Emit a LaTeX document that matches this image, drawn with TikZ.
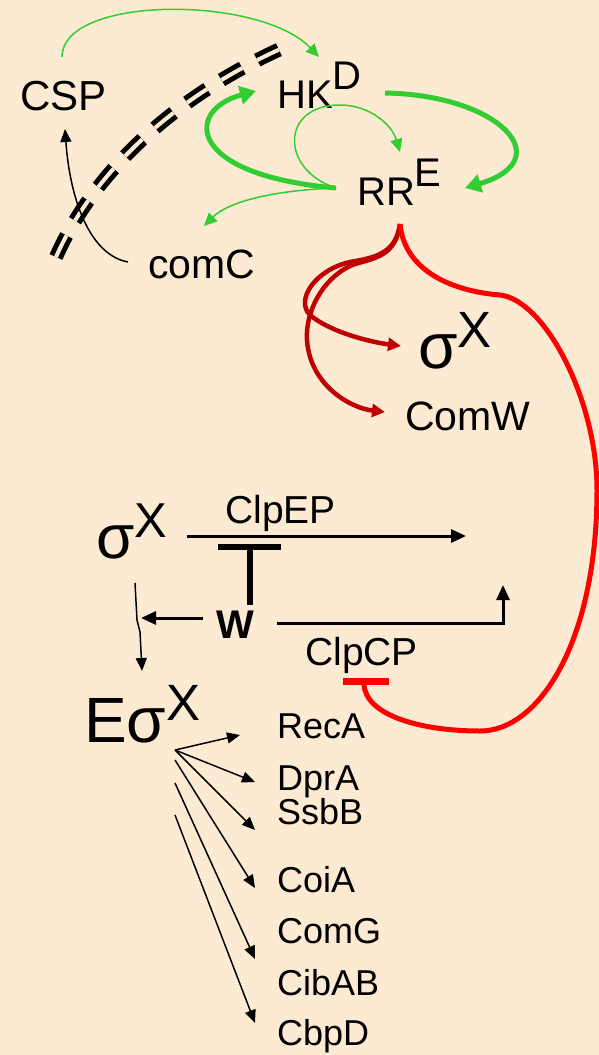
\documentclass[tikz,border=0pt]{standalone}
\usepackage{fontspec}
\setmainfont{Liberation Sans}
\usetikzlibrary{arrows.meta}
\definecolor{bg}{RGB}{253,234,211}
\definecolor{lgreen}{RGB}{50,205,50}
\definecolor{dred}{RGB}{192,0,0}
\definecolor{bred}{RGB}{255,0,0}
\newcommand{\fs}[1]{\fontsize{#1}{#1}\selectfont}
\tikzset{
  lbl/.style={inner sep=0pt, anchor=base west, text=black},
  gthin/.style={draw=lgreen, line width=1.5pt, -{Triangle[length=13pt,width=12pt]}},
  gthick/.style={draw=lgreen, line width=5pt, -{Triangle[length=16pt,width=18pt]}},
  rdark/.style={draw=dred, line width=4.5pt, -{Triangle[length=13pt,width=13pt]}},
  rbright/.style={draw=bred, line width=5pt},
  bthin/.style={draw=black, line width=1.5pt, -{Triangle[length=13pt,width=11pt]}},
  bthick/.style={draw=black, line width=3pt, -{Triangle[length=15pt,width=13pt]}},
  bbar/.style={draw=black, line width=6pt},
}
\begin{document}
\begin{tikzpicture}[x=1pt,y=-1pt]
\fill[bg] (0,0) rectangle (599,1055);
\useasboundingbox (0,0) rectangle (599,1055);

% labels
\node[lbl, font=\fs{42}] (csp) at (20,110) {CSP};
\node[lbl, font=\fs{40}] (hk) at (277,108) {HK\raisebox{19pt}{D}};
\node[lbl, font=\fs{40}] (rr) at (357,205) {RR\raisebox{19pt}{E}};
\node[lbl, font=\fs{41}] (comc) at (148,278) {comC};
\node[lbl, font=\fs{64}] (sx1) at (418,368) {σ\raisebox{21pt}{\fs{51}X}};
\node[lbl, font=\fs{41}] (comw) at (405,430) {ComW};
\node[lbl, font=\fs{62}] (sx2) at (96,558) {σ\raisebox{21pt}{\fs{49}X}};
\node[lbl, font=\fs{39}] (clpep) at (225,523) {ClpEP};
\node[lbl, font=\fs{40}\bfseries] (w) at (216,638) {W};
\node[lbl, font=\fs{39}] (clpcp) at (305,665) {ClpCP};
\node[lbl, font=\fs{64}] (esx) at (84,742) {Eσ\raisebox{22pt}{\fs{51}X}};
\node[lbl, font=\fs{36}] (reca) at (277,738) {RecA};
\node[lbl, font=\fs{36}] (dpra) at (277,790) {DprA};
\node[lbl, font=\fs{36}] (ssbb) at (277,824) {SsbB};
\node[lbl, font=\fs{36}] (coia) at (277,892) {CoiA};
\node[lbl, font=\fs{36}] (comg) at (277,943) {ComG};
\node[lbl, font=\fs{36}] (cibab) at (277,995) {CibAB};
\node[lbl, font=\fs{36}] (cbpd) at (277,1045) {CbpD};

% named coordinates
\coordinate (cspT) at (62,57);
\coordinate (cspB) at (65,129);
\coordinate (hkT) at (319,57);
\coordinate (hkL) at (256,91);
\coordinate (hkR) at (385,93);
\coordinate (rrL) at (336,188);
\coordinate (rrT) at (400,152);
\coordinate (rrR) at (465,188);
\coordinate (rrB) at (400,224);
\coordinate (comcL) at (128,262);
\coordinate (comcT) at (204,226);
\coordinate (sx1L) at (401,346);
\coordinate (comwL) at (385,412);
\coordinate (cutA) at (56,257);
\coordinate (cutB) at (287,46);

% double dashed cut
\draw[line width=5pt, double=bg, double distance=4pt, dash pattern=on 24pt off 17pt]
  (cutA) .. controls (90,180) and (165,100) .. (cutB);

% green
\draw[gthin] (cspT) .. controls (62,-5) and (260,-5) .. (hkT);
\draw[gthick] (rrL) .. controls (185,175) and (185,110) .. (hkL);
\draw[gthick] (hkR) .. controls (500,95) and (560,160) .. (rrR);
\draw[gthin] (rrL) .. controls (280,170) and (280,105) .. (340,105) .. controls (370,105) and (392,125) .. (rrT);
\draw[gthin] (rrL) .. controls (280,190) and (230,200) .. (comcT);

% comC -> CSP
\draw[bthin] (comcL) .. controls (90,255) and (70,200) .. (cspB);

% dark red
\draw[rdark] (rrB) .. controls (396,255) and (372,258) .. (350,262) .. controls (315,270) and (295,300) .. (310,315) .. controls (330,332) and (370,342) .. (sx1L);
\draw[rdark] (rrB) .. controls (396,255) and (376,258) .. (355,264) .. controls (325,275) and (305,310) .. (307,340) .. controls (310,385) and (350,408) .. (comwL);

% bright red inhibition
\coordinate (barL) at (343,681);
\coordinate (barR) at (389,681);
\coordinate (barM) at (364,684);
\draw[rbright] (rrB) .. controls (405,275) and (460,292) .. (500,295)
  .. controls (545,300) and (597,400) .. (597,490)
  .. controls (597,640) and (540,731) .. (480,731)
  .. controls (420,731) and (365,715) .. (barM);
\draw[draw=bred, line width=7pt] (barL) -- (barR);

% middle section
\coordinate (epS) at (187,536);
\coordinate (epE) at (466,536);
\draw[bthick] (epS) -- (epE);
\draw[bbar] (218,547) -- (281,547);
\draw[bbar] (250,547) -- (250,605);
\coordinate (wL) at (203,618);
\coordinate (wLt) at (141,618);
\draw[bthick] (wL) -- (wLt);
\coordinate (wR) at (277,623);
\coordinate (wRup) at (503,585);
\draw[bthick] (wR) -- (503,623) -- (wRup);
\coordinate (sx2B) at (135,583);
\coordinate (esxT) at (142,671);
\draw[bthin] (sx2B) -- (137,620) -- (140,632) -- (esxT);

% E sigma X targets
\coordinate (o1) at (175,750);
\coordinate (o2) at (175,760);
\coordinate (o3) at (175,783);
\coordinate (o4) at (175,815);
\draw[bthin] (o1) -- (240,735);
\draw[bthin] (o1) -- (255,782);
\draw[bthin] (o1) -- (255,830);
\draw[bthin] (o2) -- (255,888);
\draw[bthin] (o3) -- (255,959);
\draw[bthin] (o4) -- (255,1023);
\end{tikzpicture}
\end{document}
